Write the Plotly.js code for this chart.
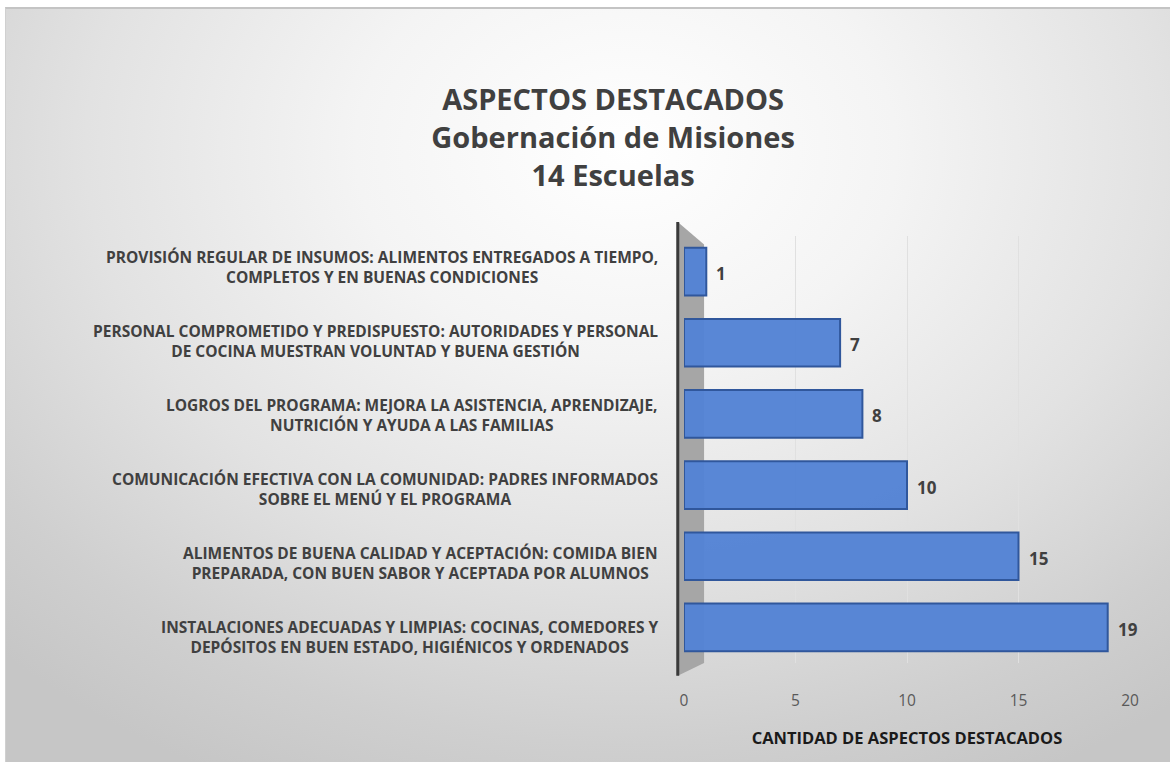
<!DOCTYPE html>
<html>
<head>
<meta charset="utf-8">
<script src="https://cdn.plot.ly/plotly-3.0.1.min.js"></script>
<style>
html,body{margin:0;padding:0;background:#ffffff;}
#wrap{position:absolute;left:0;top:0;width:1170px;height:762px;background:#ffffff;}
#frame{position:absolute;left:5px;top:7px;width:1165px;height:755px;border-top:2px solid #c4c4c4;border-left:1px solid #d0d0d0;box-sizing:border-box;
background:radial-gradient(ellipse 900px 700px at 620px 140px,#ffffff 0%,#f4f4f4 30%,#e2e2e2 60%,#cfcfcf 85%,#c6c6c6 100%);}
#chart{position:absolute;left:0;top:0;width:1170px;height:762px;}
</style>
</head>
<body>
<div id="wrap"><div id="frame"></div><div id="chart"></div></div>
<script>
const categories = [
  "INSTALACIONES ADECUADAS Y LIMPIAS: COCINAS, COMEDORES Y<br>DEPÓSITOS EN BUEN ESTADO, HIGIÉNICOS Y ORDENADOS",
  "ALIMENTOS DE BUENA CALIDAD Y ACEPTACIÓN: COMIDA BIEN<br>PREPARADA, CON BUEN SABOR Y ACEPTADA POR ALUMNOS",
  "COMUNICACIÓN EFECTIVA CON LA COMUNIDAD: PADRES INFORMADOS<br>SOBRE EL MENÚ Y EL PROGRAMA",
  "LOGROS DEL PROGRAMA: MEJORA LA ASISTENCIA, APRENDIZAJE,<br>NUTRICIÓN Y AYUDA A LAS FAMILIAS",
  "PERSONAL COMPROMETIDO Y PREDISPUESTO: AUTORIDADES Y PERSONAL<br>DE COCINA MUESTRAN VOLUNTAD Y BUENA GESTIÓN",
  "PROVISIÓN REGULAR DE INSUMOS: ALIMENTOS ENTREGADOS A TIEMPO,<br>COMPLETOS Y EN BUENAS CONDICIONES"
];
const values = [19, 15, 10, 8, 7, 1];
const xTicks = [0, 5, 10, 15, 20];
const titleLines = ["ASPECTOS DESTACADOS", "Gobernación de Misiones", "14 Escuelas"];
const xTitle = "CANTIDAD DE ASPECTOS DESTACADOS";

const FONT = "Open Sans, DejaVu Sans, sans-serif";
const yIdx = categories.map((c, i) => i);

const traces = [{
  type: 'bar',
  orientation: 'h',
  x: values,
  y: yIdx,
  width: 0.67,
  marker: {color: 'rgba(84,131,213,0.97)', line: {color: '#30579c', width: 2}},
  hoverinfo: 'skip'
}];

const catAnnotations = categories.map((c, i) => ({
  xref: 'paper', yref: 'y', x: -0.054, y: i,
  xanchor: 'right', yanchor: 'middle', align: 'center',
  yshift: -10 + i * 3,
  text: '<b>' + c + '</b>', showarrow: false,
  font: {family: FONT, size: 15.5, color: '#404040'}
}));

const valueAnnotations = values.map((v, i) => ({
  xref: 'x', yref: 'y', x: v, y: i,
  xanchor: 'left', yanchor: 'middle', xshift: 8, yshift: -2,
  text: '<b>' + v + '</b>', showarrow: false,
  font: {family: FONT, size: 17, color: '#404040'}
}));

const layout = {
  width: 1170, height: 762,
  paper_bgcolor: 'rgba(0,0,0,0)', plot_bgcolor: 'rgba(0,0,0,0)',
  margin: {l: 684, r: 40, t: 236, b: 99},
  showlegend: false,
  title: {
    text: '<b>' + titleLines.join('<br>') + '</b>',
    x: 0.524, xanchor: 'center', y: 0.855, yanchor: 'top',
    font: {family: FONT, size: 29, color: '#404040'}
  },
  xaxis: {
    range: [0, 20], tickvals: xTicks, ticktext: xTicks.map(String),
    showgrid: true, gridcolor: '#e0e0e0', gridwidth: 1,
    zeroline: false, showline: false, ticks: '',
    ticklabelstandoff: 26,
    tickfont: {family: FONT, size: 15.5, color: '#595959'},
    title: {text: '<b>' + xTitle + '</b>', standoff: 22,
      font: {family: FONT, size: 16.5, color: '#1a1a1a'}}
  },
  yaxis: {
    range: [-0.5, 5.5], showticklabels: false, showgrid: false,
    zeroline: false, showline: false, ticks: ''
  },
  annotations: catAnnotations.concat(valueAnnotations),
  shapes: [
    {type: 'path', xref: 'paper', yref: 'paper', layer: 'below',
     path: 'M -0.014 -0.03 L -0.014 1.033 L 0.045 0.98 L 0.045 0.0 Z',
     fillcolor: '#a6a6a6', line: {width: 0}},
    {type: 'line', xref: 'paper', yref: 'paper', layer: 'above',
     x0: -0.014, x1: -0.014, y0: -0.03, y1: 1.033,
     line: {color: '#3a3a3a', width: 3}}
  ]
};

Plotly.newPlot('chart', traces, layout, {displayModeBar: false, staticPlot: true});
</script>
</body>
</html>
